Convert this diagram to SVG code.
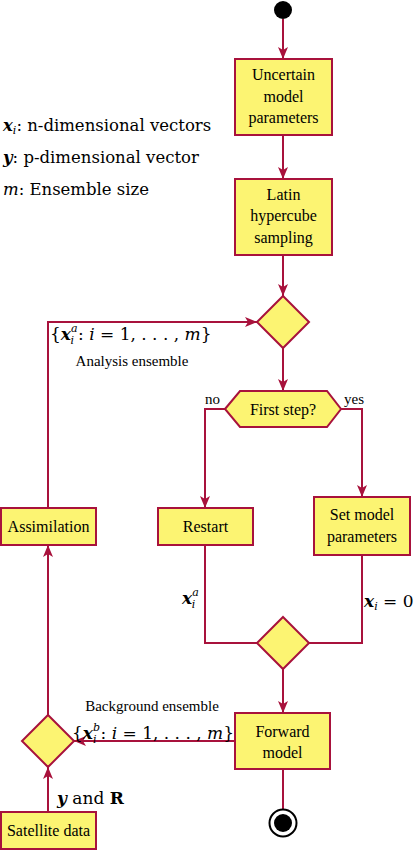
<svg xmlns="http://www.w3.org/2000/svg" width="418" height="850" viewBox="0 0 418 850">
<defs>
<style>
.n{fill:#fcf472;stroke:#a8123c;stroke-width:2}
.c{fill:none;stroke:#a8123c;stroke-width:2}
</style>
<marker id="ah" viewBox="0 0 12 10" refX="12" refY="5" markerWidth="12" markerHeight="10" markerUnits="userSpaceOnUse" orient="auto">
<path d="M0,0 L12,5 L0,10 L3,5 z" fill="#a8123c"/>
</marker>
</defs>
<rect width="418" height="850" fill="#fff"/>

<g id="connectors">
<line class="c" x1="283" y1="19" x2="283" y2="59" marker-end="url(#ah)"/>
<line class="c" x1="283" y1="135" x2="283" y2="179" marker-end="url(#ah)"/>
<line class="c" x1="283" y1="255" x2="283" y2="296" marker-end="url(#ah)"/>
<line class="c" x1="283" y1="348" x2="283" y2="391" marker-end="url(#ah)"/>
<polyline class="c" points="225,409 205,409 205,508" marker-end="url(#ah)"/>
<polyline class="c" points="341,409 362,409 362,497" marker-end="url(#ah)"/>
<polyline class="c" points="205,545 205,643 257,643"/>
<polyline class="c" points="362,555 362,643 309,643"/>
<line class="c" x1="283" y1="669" x2="283" y2="713" marker-end="url(#ah)"/>
<line class="c" x1="283" y1="769" x2="283" y2="809"/>
<line class="c" x1="235" y1="741" x2="74" y2="741" marker-end="url(#ah)"/>
<line class="c" x1="48" y1="811" x2="48" y2="767" marker-end="url(#ah)"/>
<line class="c" x1="48" y1="715" x2="48" y2="545" marker-end="url(#ah)"/>
<polyline class="c" points="48,508 48,322 257,322" marker-end="url(#ah)"/>
</g>

<g id="start"><circle cx="283" cy="10" r="9" fill="#000"/></g>

<g font-family="Liberation Serif, Times New Roman, serif" font-size="16" text-anchor="middle" fill="#000">
<g id="uncertain">
<rect class="n" x="235" y="59" width="97" height="76"/>
<text x="283.5" y="80">Uncertain</text>
<text x="283.5" y="102">model</text>
<text x="283.5" y="123">parameters</text>
</g>

<g id="latin">
<rect class="n" x="235" y="179" width="97" height="76"/>
<text x="283.5" y="200">Latin</text>
<text x="283.5" y="221">hypercube</text>
<text x="283.5" y="243">sampling</text>
</g>

<g id="merge1"><polygon class="n" points="283,296 309,322 283,348 257,322"/></g>

<g id="firststep">
<polygon class="n" points="225,409 240,391 327,391 341,409 327,427 240,427"/>
<text x="283" y="415">First step?</text>
</g>

<g id="restart">
<rect class="n" x="158" y="508" width="95" height="37"/>
<text x="205.5" y="532">Restart</text>
</g>

<g id="assimilation">
<rect class="n" x="1" y="508" width="95" height="37"/>
<text x="48.5" y="532">Assimilation</text>
</g>

<g id="setmodel">
<rect class="n" x="314" y="497" width="96" height="58"/>
<text x="362" y="520">Set model</text>
<text x="362" y="542">parameters</text>
</g>

<g id="merge2"><polygon class="n" points="283,617 309,643 283,669 257,643"/></g>

<g id="forward">
<rect class="n" x="235" y="713" width="95" height="56"/>
<text x="282.5" y="737">Forward</text>
<text x="282.5" y="758">model</text>
</g>

<g id="merge3"><polygon class="n" points="48,715 74,741 48,767 22,741"/></g>

<g id="satellite">
<rect class="n" x="1" y="812" width="95" height="37"/>
<text x="48.5" y="836">Satellite data</text>
</g>

<text x="132" y="366" font-size="15">Analysis ensemble</text>
<text x="220" y="404" font-size="15" text-anchor="end">no</text>
<text x="344" y="404" font-size="15" text-anchor="start">yes</text>
<text x="152" y="711" font-size="15">Background ensemble</text>
</g>

<g id="end">
<circle cx="283" cy="823" r="13.5" fill="#fff" stroke="#000" stroke-width="2"/>
<circle cx="283" cy="823" r="9" fill="#000"/>
</g>

<g id="labels" font-family="DejaVu Serif, serif" fill="#000">
<text x="3" y="131" font-size="16.5"><tspan font-weight="bold" font-style="italic">x</tspan><tspan font-style="italic" font-size="11" dy="3">i</tspan><tspan dy="-3">: n-dimensional vectors</tspan></text>
<text x="3" y="163" font-size="16.5"><tspan font-weight="bold" font-style="italic">y</tspan>: p-dimensional vector</text>
<text x="3" y="195" font-size="16.5"><tspan font-style="italic">m</tspan>: Ensemble size</text>

<text x="50" y="340" font-size="17"><tspan>{</tspan><tspan font-weight="bold" font-style="italic">x</tspan><tspan font-style="italic" font-size="11" dy="-8">a</tspan><tspan font-style="italic" font-size="11" dx="-7" dy="12">i</tspan><tspan dx="4" dy="-4">: </tspan><tspan font-style="italic">i</tspan><tspan> = 1, . . . , </tspan><tspan font-style="italic">m</tspan><tspan>}</tspan></text>

<text x="182" y="604" font-size="17"><tspan font-weight="bold" font-style="italic">x</tspan><tspan font-style="italic" font-size="11" dy="-8">a</tspan><tspan font-style="italic" font-size="11" dx="-7" dy="12">i</tspan></text>
<text x="364" y="607" font-size="17"><tspan font-weight="bold" font-style="italic">x</tspan><tspan font-style="italic" font-size="11" dy="3">i</tspan><tspan dy="-3"> = 0</tspan></text>

<text x="72" y="739" font-size="17"><tspan>{</tspan><tspan font-weight="bold" font-style="italic">x</tspan><tspan font-style="italic" font-size="11" dy="-8">b</tspan><tspan font-style="italic" font-size="11" dx="-7" dy="12">i</tspan><tspan dx="4" dy="-4">: </tspan><tspan font-style="italic">i</tspan><tspan> = 1, . . . , </tspan><tspan font-style="italic">m</tspan><tspan>}</tspan></text>

<text x="57" y="804" font-size="17"><tspan font-weight="bold" font-style="italic">y</tspan><tspan> and </tspan><tspan font-weight="bold">R</tspan></text>
</g>
</svg>
